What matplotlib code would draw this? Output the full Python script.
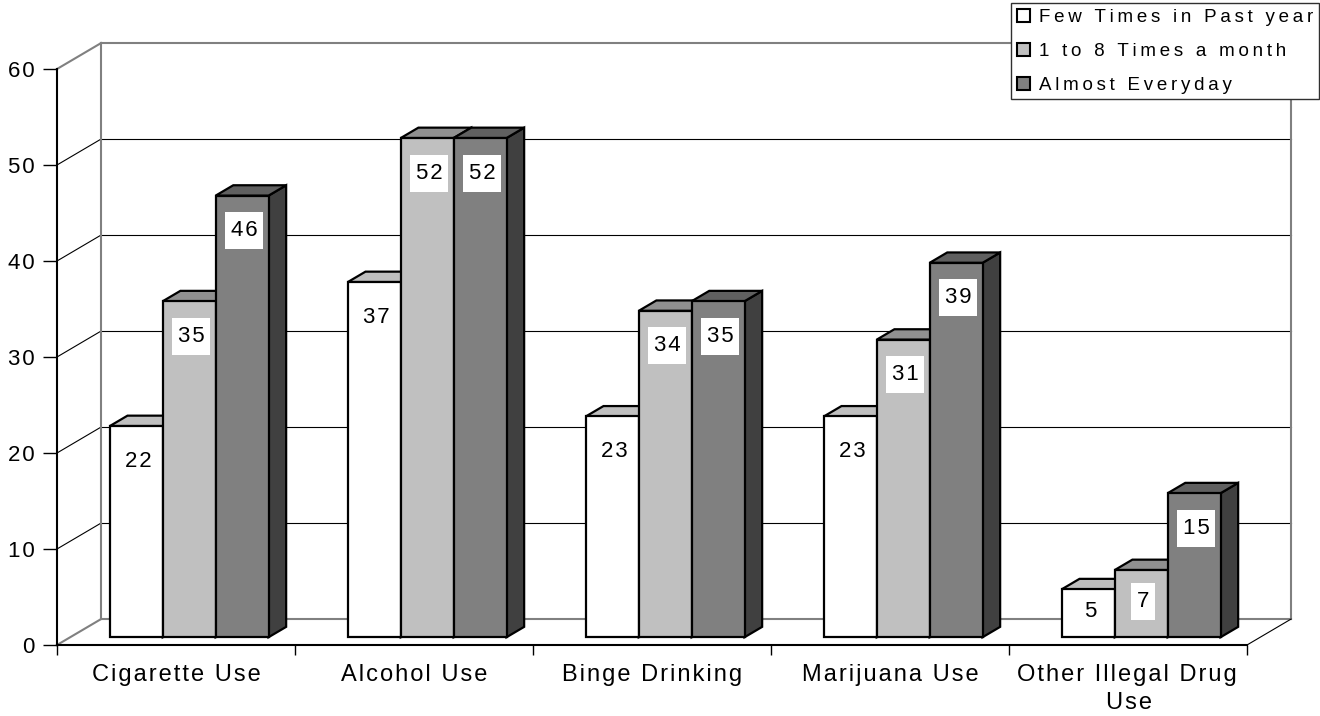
import matplotlib.pyplot as plt
from matplotlib.colors import to_rgb
from matplotlib.patches import Polygon, Patch
from matplotlib.path import Path

plt.rcParams['font.family'] = ['Liberation Sans', 'DejaVu Sans']

categories = ["Cigarette Use", "Alcohol Use", "Binge Drinking",
              "Marijuana Use", "Other Illegal Drug\nUse"]
series_names = ["Few Times in Past year", "1 to 8 Times a month", "Almost Everyday"]
few_times = [22, 37, 23, 23, 5]
monthly = [35, 52, 34, 31, 7]
everyday = [46, 52, 35, 39, 15]
y_ticks = [0, 10, 20, 30, 40, 50, 60]

series = [few_times, monthly, everyday]
front_colors = ["#FFFFFF", "#C0C0C0", "#808080"]

# fake 3d: floor depth expressed in data units (x in categories, y in values)
DX, DY = 0.185, 2.7
T0, T1 = 0.3, 0.7        # bars sit between these depth fractions
GAP = 1.5                 # gap width, in bar widths
WALL = "#808080"


def spaced(s, sep="\u200a"):
    # Excel style loose letter spacing
    return sep.join(s)


def proj(x, y, t):
    return (x + t * DX, y + t * DY)


def shade(col, f):
    return tuple(c * f for c in to_rgb(col))


def label_box(x0, y0, width, height, mutation_size):
    # plain rectangle with separate horizontal / vertical padding (pixels)
    px, py = 5.5, 8
    x0, y0 = x0 - px, y0 - py
    x1, y1 = x0 + width + 2 * px, y0 + height + 2 * py
    return Path([(x0, y0), (x1, y0), (x1, y1), (x0, y1), (x0, y0)], closed=True)


fig = plt.figure(figsize=(13.2, 7.16), dpi=100)
ax = fig.add_axes([57 / 1320, 71 / 716, 1190 / 1320, 576 / 716])
ax.set_xlim(0, len(categories))
ax.set_ylim(0, 60)

# walls and gridlines
n = len(categories)
for v in y_ticks:
    col = WALL if v in (0, 60) else "black"
    lw = 1.5 if v in (0, 60) else 0.8
    ax.plot(*zip(proj(0, v, 0), proj(0, v, 1)), color=col, lw=lw, clip_on=False, zorder=1)
    ax.plot(*zip(proj(0, v, 1), proj(n, v, 1)), color=col, lw=lw, clip_on=False, zorder=1)
for x in (0, n):
    ax.plot(*zip(proj(x, 0, 1), proj(x, 60, 1)), color=WALL, lw=1.5, clip_on=False, zorder=1)
ax.plot(*zip(proj(n, 0, 0), proj(n, 0, 1)), color="black", lw=0.8, clip_on=False, zorder=1)

# bars: side, top, then front face, left to right
w = 1 / (len(series) + GAP)
for i in range(n):
    for j, vals in enumerate(series):
        v = vals[i]
        x0 = i + GAP * w / 2 + j * w
        x1 = x0 + w
        fc = front_colors[j]
        side = [proj(x1, 0, T0), proj(x1, 0, T1), proj(x1, v, T1), proj(x1, v, T0)]
        top = [proj(x0, v, T0), proj(x1, v, T0), proj(x1, v, T1), proj(x0, v, T1)]
        front = [proj(x0, 0, T0), proj(x1, 0, T0), proj(x1, v, T0), proj(x0, v, T0)]
        for pts, c in ((side, shade(fc, 0.5)), (top, shade(fc, 0.75)), (front, fc)):
            ax.add_patch(Polygon(pts, closed=True, facecolor=c, edgecolor="black",
                                 lw=1.6, joinstyle="miter", clip_on=False, zorder=3))
        # value label inside the front face, below the top
        off = min(3.65, v / 2 - 0.2)
        lx, ly = proj(x0 + w / 2, v, T0)
        ax.text(lx + 0.008, ly - off, spaced(str(v)), ha="center", va="center",
                fontsize=16, zorder=4,
                bbox=dict(boxstyle=label_box, facecolor="white", edgecolor="none"))

for s in ("top", "right"):
    ax.spines[s].set_visible(False)
for s in ("left", "bottom"):
    ax.spines[s].set_linewidth(1.5)
    ax.spines[s].set_zorder(2)

ax.set_yticks(y_ticks)
ax.set_yticklabels([spaced(str(t)) for t in y_ticks])
ax.tick_params(axis="y", length=10, width=1, pad=6, labelsize=16)
ax.set_xticks(range(n + 1))
ax.set_xticklabels([])
ax.set_xticks([i + 0.5 for i in range(n)], minor=True)
ax.set_xticklabels([spaced(c) for c in categories], minor=True, linespacing=1.3)
ax.tick_params(axis="x", which="major", length=7, width=1)
ax.tick_params(axis="x", which="minor", length=0, pad=14, labelsize=17)

handles = [Patch(facecolor=c, edgecolor="black", lw=1.5) for c in front_colors]
leg = ax.legend(handles, [spaced(s, "\u2009") for s in series_names], loc="upper right",
                bbox_to_anchor=(1319 / 1320, 1 - 3 / 716), bbox_transform=fig.transFigure,
                fancybox=False, framealpha=1, edgecolor="#303030", fontsize=13.5,
                borderpad=0.3, borderaxespad=0, handlelength=0.7, handleheight=0.7,
                handletextpad=0.5, labelspacing=0.9)
leg.get_frame().set_linewidth(1)
leg.set_zorder(10)

fig.savefig("out.png", dpi=100, facecolor="white")
